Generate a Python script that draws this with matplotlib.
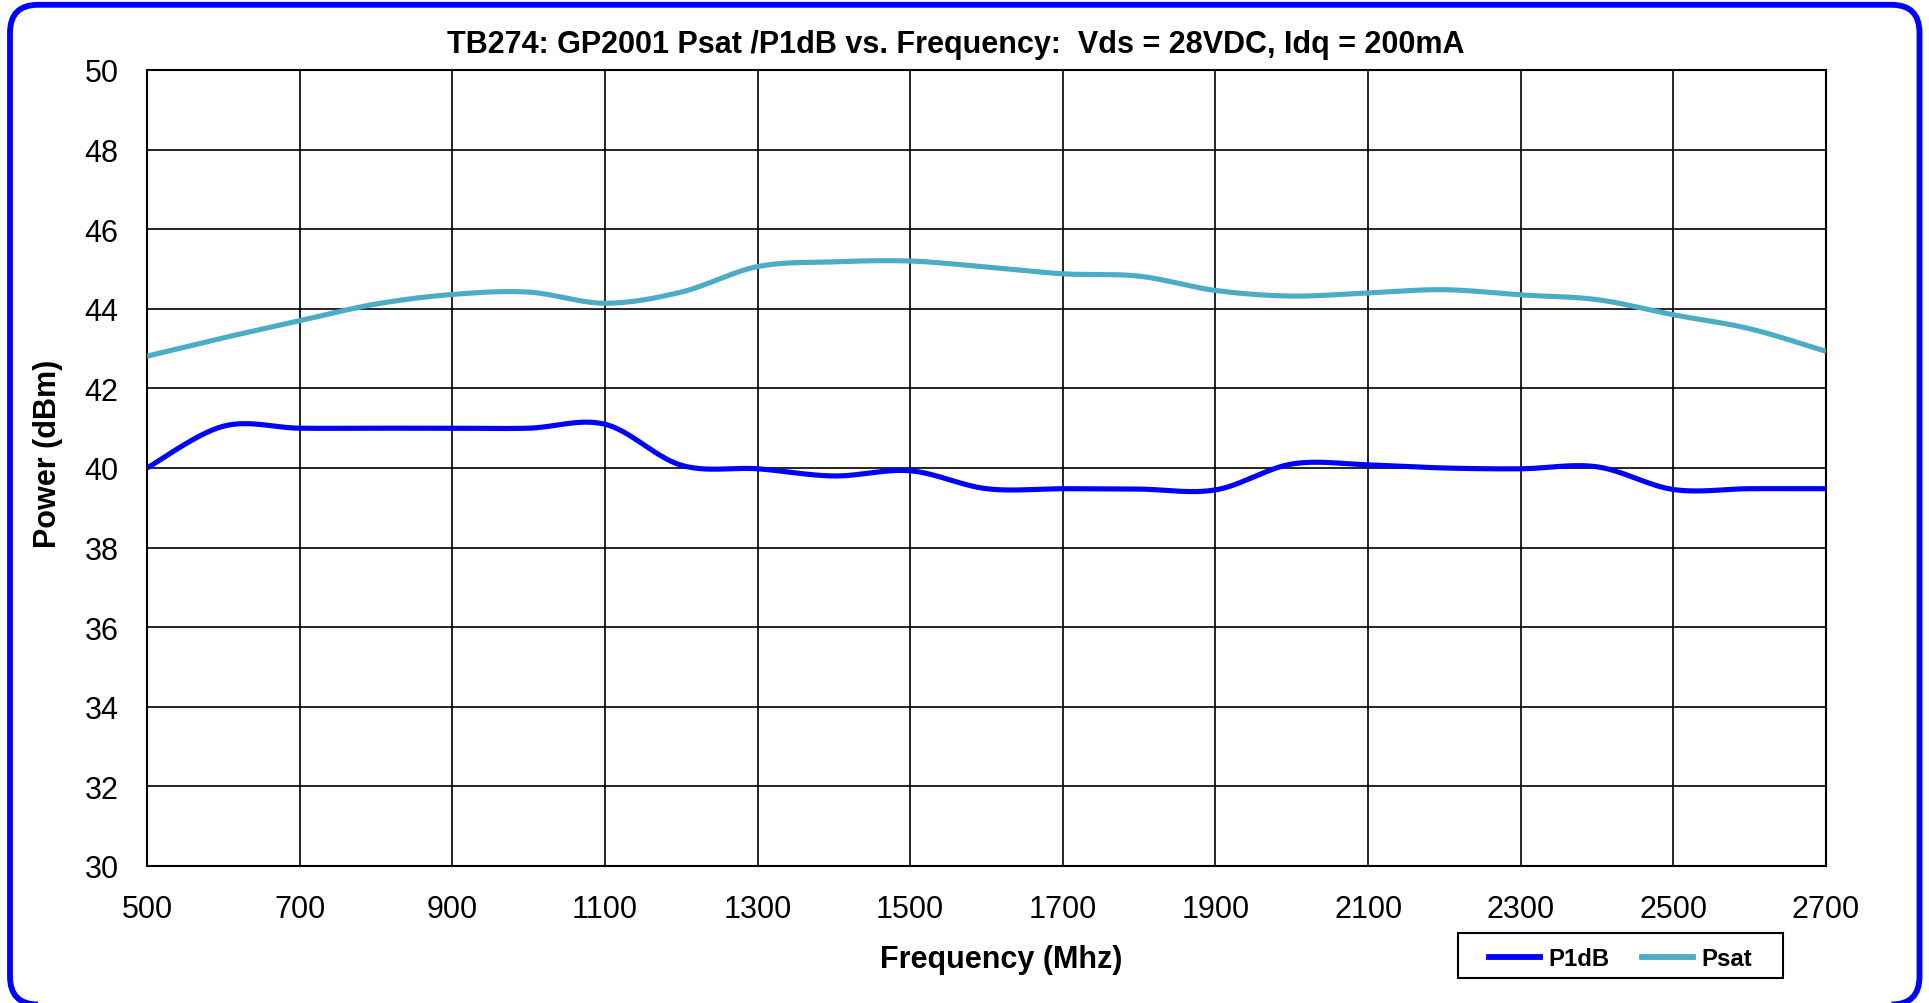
import numpy as np
import matplotlib
matplotlib.use("Agg")
import matplotlib.pyplot as plt
from matplotlib.patches import FancyBboxPatch, Rectangle
from matplotlib.lines import Line2D
from matplotlib.transforms import IdentityTransform

plt.rcParams['font.family'] = ['Liberation Sans', 'DejaVu Sans']

# ---- data ----
freq = [500, 600, 700, 800, 900, 1000, 1100, 1200, 1300, 1400, 1500, 1600,
        1700, 1800, 1900, 2000, 2100, 2200, 2300, 2400, 2500, 2600, 2700]
p1db = [40.0, 41.05, 41.0, 41.0, 41.0, 41.0, 41.1, 40.07, 39.98, 39.8, 39.93, 39.48,
        39.48, 39.47, 39.45, 40.1, 40.08, 40.0, 39.98, 40.03, 39.46, 39.48, 39.48]
psat = [42.81, 43.27, 43.7, 44.12, 44.36, 44.42, 44.14, 44.42, 45.06, 45.18, 45.2, 45.05,
        44.88, 44.82, 44.46, 44.32, 44.4, 44.48, 44.35, 44.23, 43.85, 43.5, 42.93]
x_ticks = [500, 700, 900, 1100, 1300, 1500, 1700, 1900, 2100, 2300, 2500, 2700]
y_ticks = [30, 32, 34, 36, 38, 40, 42, 44, 46, 48, 50]
title = "TB274: GP2001 Psat /P1dB vs. Frequency:  Vds = 28VDC, Idq = 200mA"


def smooth(xs, ys, n=30):
    """Excel-style smoothed line (Catmull-Rom Bezier through the data points)."""
    P = np.column_stack([xs, ys]).astype(float)
    ext = np.vstack([P[0], P, P[-1]])
    out = []
    t = np.linspace(0, 1, n)[:, None]
    for i in range(len(P) - 1):
        p0, p1, p2, p3 = ext[i], ext[i + 1], ext[i + 2], ext[i + 3]
        c1 = p1 + (p2 - p0) / 6.0
        c2 = p2 - (p3 - p1) / 6.0
        seg = ((1 - t) ** 3) * p1 + 3 * ((1 - t) ** 2) * t * c1 + 3 * (1 - t) * t ** 2 * c2 + t ** 3 * p2
        out.append(seg if i == 0 else seg[1:])
    out = np.vstack(out)
    return out[:, 0], out[:, 1]


W, H = 1929, 1004
fig = plt.figure(figsize=(W / 100, H / 100), dpi=100)
ax = fig.add_axes([147 / W, 1 - 867 / H, (1826 - 147) / W, (867 - 71) / H])

c_p1 = '#0000FF'
c_ps = '#4BACC6'
sx, sy = smooth(freq, p1db)
ax.plot(sx, sy, color=c_p1, lw=3.7, solid_capstyle='butt', zorder=3)
sx, sy = smooth(freq, psat)
ax.plot(sx, sy, color=c_ps, lw=3.7, solid_capstyle='butt', zorder=3)

ax.set_xlim(500, 2700)
ax.set_ylim(30, 50)
ax.set_xticks(x_ticks)
ax.set_yticks(y_ticks)
ax.grid(True, color='black', lw=1.2)
ax.set_axisbelow(True)
for s in ax.spines.values():
    s.set_color('black')
    s.set_linewidth(1.5)
ax.tick_params(axis='both', length=0, labelsize=22, colors='black')
ax.tick_params(axis='x', pad=20)
ax.tick_params(axis='y', pad=20.5)

fig.text(956 / W, 1 - 45 / H, title, ha='center', va='center', fontsize=22, fontweight='bold')
fig.text(1001 / W, 1 - 960 / H, 'Frequency (Mhz)', ha='center', va='center', fontsize=22, fontweight='bold')
fig.text(48.5 / W, 1 - 454 / H, 'Power (dBm)', ha='center', va='center', rotation=90,
         fontsize=22, fontweight='bold')

# legend
handles = [Line2D([], [], color=c_p1, lw=4.2), Line2D([], [], color=c_ps, lw=4.2)]
leg = fig.legend(handles, ['P1dB', 'Psat'], loc='center', ncol=2, frameon=False,
                 bbox_to_anchor=((1458 + 1783) / 2 / W, 1 - 960 / H),
                 prop={'size': 17.2, 'weight': 'bold'}, handlelength=2.1,
                 handletextpad=0.35, columnspacing=1.4, borderpad=0.0)
fig.patches.append(Rectangle((1458 / W, 1 - 979 / H), 325 / W, 45 / H, transform=fig.transFigure,
                             fill=False, edgecolor='black', lw=1.5))

# outer rounded border (pixel coordinates)
border = FancyBboxPatch((10, H - 1005.5), 1919.5 - 10, (1005.5 - 5.8),
                        boxstyle='round,pad=0,rounding_size=28', transform=IdentityTransform(),
                        fill=False, edgecolor='#0000FF', lw=4.2, clip_on=False)
fig.patches.append(border)

fig.savefig('out.png', dpi=100, facecolor='white')
